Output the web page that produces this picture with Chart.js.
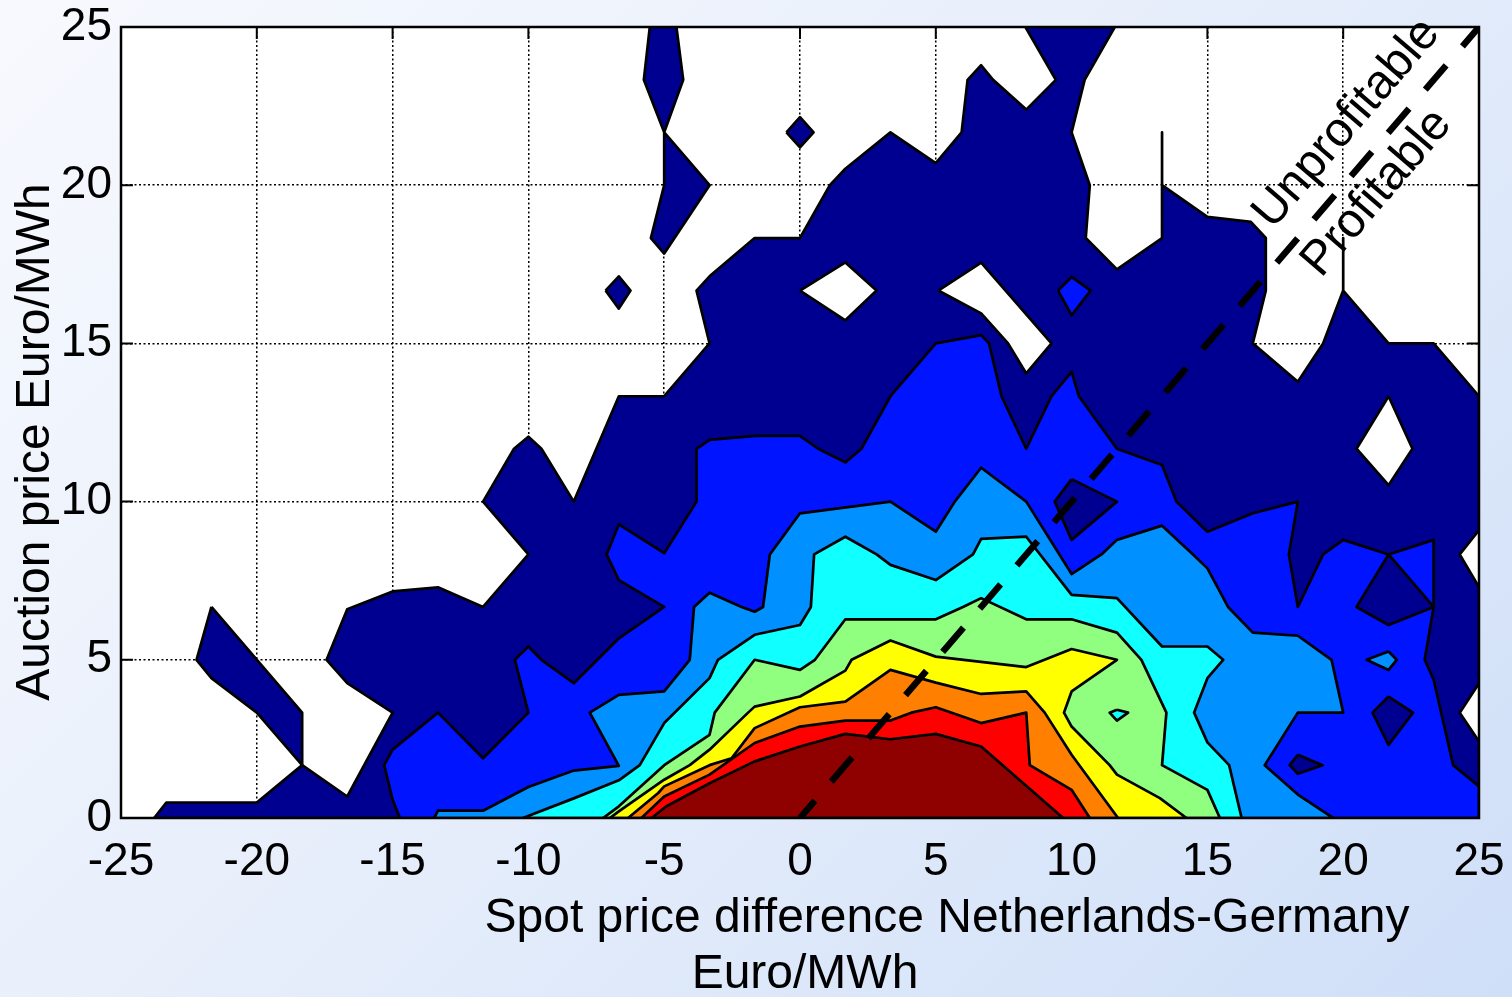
<!DOCTYPE html>
<html>
<head>
<meta charset="utf-8">
<title>Auction price vs spot price difference</title>
<script src="https://cdn.jsdelivr.net/npm/chart.js@4.4.1/dist/chart.umd.min.js"></script>
<style>
  html, body { margin: 0; padding: 0; }
  body {
    width: 1512px; height: 997px; overflow: hidden;
    background: linear-gradient(135deg, #f7f9fe 0%, #e8effb 45%, #cfdff8 100%);
  }
  canvas { display: block; }
</style>
</head>
<body>
<canvas id="contour" width="1512" height="997"></canvas>
<script>
// ---- axes ----
const xTicks = [-25, -20, -15, -10, -5, 0, 5, 10, 15, 20, 25];
const yTicks = [0, 5, 10, 15, 20, 25];

// ---- filled contour bands, [spot difference, auction price] vertices ----
// level 1 (lowest frequency band)
const level1Region = [
  [-23.78, 0], [-23.33, 0.49], [-20, 0.49], [-18.33, 1.67], [-16.67, 0.68], [-15, 3.33],
  [-16.67, 4.26], [-17.43, 5], [-16.67, 6.6], [-15, 7.16], [-13.33, 7.29], [-11.67, 6.67],
  [-10, 8.33], [-11.67, 10], [-10.53, 11.67], [-10, 12.05], [-9.52, 11.67], [-8.33, 10],
  [-6.67, 13.33], [-5, 13.33], [-3.33, 15], [-3.81, 16.67], [-3.33, 17.12], [-1.67, 18.33],
  [0, 18.33], [1.1, 20], [1.67, 20.52], [3.33, 21.67], [5, 20.7], [5.95, 21.67], [6.17, 23.33],
  [6.67, 23.79], [7.11, 23.33], [8.33, 22.39], [9.42, 23.33], [8.3, 25], [11.59, 25],
  [10.48, 23.33], [10, 21.67], [10.67, 20], [10.52, 18.33], [11.67, 17.34], [13.33, 18.33],
  [13.33, 21.67], [13.33, 20], [15, 19], [16.6, 18.84], [17.15, 18.33], [17.15, 16.67],
  [16.67, 15], [18.33, 13.79], [19.26, 15], [20, 16.67], [20, 18.33], [20, 16.67],
  [21.67, 15], [23.33, 15], [25, 13.33], [25, 9.1], [24.29, 8.33], [25, 7.3], [25, 4.26],
  [24.29, 3.33], [25, 2.42], [25, 0]
];
const level1Spike = [
  [-5.53, 25], [-5.75, 23.33], [-5, 21.67], [-5, 20], [-5.49, 18.33], [-5, 17.84],
  [-3.33, 20], [-5, 21.67], [-4.3, 23.33], [-4.55, 25]
];
const level1DiamondTop = [[-0.5, 21.67], [0, 22.15], [0.5, 21.67], [0, 21.2]];
const level1DiamondLeft = [[-7.16, 16.67], [-6.67, 17.12], [-6.24, 16.67], [-6.67, 16.1]];
const level1Strip = [
  [-21.67, 6.67], [-22.22, 5], [-21.67, 4.42], [-20, 3.33], [-18.33, 1.67], [-18.33, 3.33]
];
// gaps below level 1 inside the level 1 band
const gapA = [[0, 16.67], [1.67, 17.56], [2.82, 16.67], [1.67, 15.73]];
const gapB = [[5.09, 16.67], [6.67, 17.55], [9.26, 15], [8.33, 14.05], [7.66, 15], [6.67, 15.95]];
const gapC = [[21.67, 13.33], [20.49, 11.67], [21.67, 10.52], [22.55, 11.67]];

// level 2
const level2Region = [
  [-14.73, 0], [-15, 0.58], [-15.31, 1.67], [-15, 2.16], [-13.33, 3.33], [-11.67, 1.89],
  [-10, 3.33], [-10.5, 5], [-10, 5.42], [-9.52, 5], [-8.33, 4.26], [-7.46, 5], [-6.67, 5.68],
  [-5, 6.67], [-6.67, 7.52], [-7.12, 8.33], [-6.67, 9.28], [-5, 8.37], [-3.81, 10],
  [-3.81, 11.67], [-3.33, 11.95], [-1.67, 12.08], [0, 12.08], [0.67, 11.67], [1.67, 11.24],
  [2.26, 11.67], [3.33, 13.33], [5, 15], [6.67, 15.26], [6.96, 15], [7.42, 13.33],
  [8.33, 11.67], [9.26, 13.33], [10, 14.1], [10.27, 13.33], [11.67, 11.67], [13.33, 11.16],
  [13.86, 10], [15, 9.05], [16.67, 9.63], [18.33, 10], [18, 8.33], [18.33, 6.67],
  [19.26, 8.33], [20, 8.79], [21.67, 8.33], [23.33, 8.79], [23.33, 6.67], [23, 5],
  [23.33, 4.37], [24.05, 1.67], [25, 1.0], [25, 0]
];
const level2Patch = [[9.5, 16.67], [10, 17.1], [10.7, 16.67], [10, 15.89]];
const level1HoleA = [[10, 10.71], [11.67, 10], [10, 8.79], [9.38, 10]];
const level1HoleB = [[21.67, 8.33], [20.49, 6.67], [21.67, 6.1], [23.33, 6.67]];
const level1HoleC = [[21.67, 3.84], [22.57, 3.33], [21.67, 2.31], [21.08, 3.33]];
const level1HoleD = [[18.33, 2.0], [19.24, 1.67], [18.33, 1.4], [18.03, 1.67]];
const level3Patch = [[21.67, 5.26], [21.97, 5], [21.67, 4.68], [20.86, 5]];

// level 3
const level3Region = [
  [-13.47, 0], [-13.33, 0.23], [-11.67, 0.23], [-10, 0.98], [-8.33, 1.5], [-6.67, 1.65],
  [-7.74, 3.33], [-6.67, 3.89], [-5, 4.0], [-4.06, 5], [-3.9, 6.67], [-3.33, 7.12],
  [-2.15, 6.67], [-1.67, 6.52], [-1.36, 6.67], [-1.11, 8.33], [0, 9.63], [3.33, 10],
  [5, 9.05], [5.7, 10], [6.67, 11.07], [8.33, 10], [10, 7.71], [11.1, 8.33], [11.67, 8.79],
  [13.33, 9.24], [14.47, 8.33], [15, 7.89], [15.76, 6.67], [16.67, 5.86], [18.33, 5.76],
  [19.57, 5], [20, 3.33], [18.33, 3.33], [17.11, 1.67], [18.33, 0.74], [19.63, 0]
];

// level 4
const level4Region = [
  [-10.2, 0], [-8.33, 0.62], [-6.67, 1.19], [-5.9, 1.67], [-5, 3.0], [-3.33, 4.42],
  [-3.02, 5], [-1.67, 5.79], [0, 6.1], [0.4, 6.67], [0.52, 8.33], [1.67, 8.89],
  [2.82, 8.33], [3.33, 8.0], [5, 7.52], [6.37, 8.33], [6.67, 8.82], [8.33, 8.89],
  [10, 7.05], [11.67, 6.95], [13.33, 5.42], [15, 5.42], [15.58, 5], [15, 4.42],
  [14.51, 3.33], [15, 2.39], [15.8, 1.67], [16.26, 0]
];

// level 5
const level5Region = [
  [-7.25, 0], [-6.67, 0.37], [-5, 1.67], [-3.33, 2.63], [-3.14, 3.33], [-1.67, 5.0],
  [0, 4.68], [0.55, 5], [1.67, 6.28], [5, 6.28], [6, 6.67], [6.67, 6.95], [8.33, 6.28],
  [10, 6.28], [11.67, 5.86], [12.57, 5], [13.49, 3.33], [13.33, 1.67], [15, 0.89], [15.46, 0]
];
const level4Patch = [[11.67, 3.42], [12.08, 3.33], [11.67, 3.08], [11.4, 3.33]];

// level 6
const level6Region = [
  [-7.0, 0], [-6.67, 0.21], [-5, 1.21], [-4.06, 1.67], [-3.33, 2.16], [-1.91, 3.33],
  [-1.67, 3.52], [0, 3.84], [1.67, 4.66], [1.9, 5], [3.33, 5.61], [5, 5.1], [8.33, 4.77],
  [10, 5.34], [11.67, 5.0], [10, 4.0], [9.72, 3.33], [10, 2.89], [11.4, 1.67],
  [11.67, 1.37], [13.25, 0.63], [14.23, 0]
];

// level 7
const level7Region = [
  [-6.33, 0], [-5.22, 0.79], [-5, 1.0], [-3.33, 1.67], [-2.52, 1.89], [-1.67, 2.84],
  [0, 3.5], [1.67, 3.68], [3.33, 4.68], [5, 4.28], [6.67, 3.92], [8.33, 4.0],
  [9.01, 3.33], [10, 2.0], [11.71, 0]
];

// level 8
const level8Region = [
  [-5.84, 0], [-5, 0.68], [-3.33, 1.37], [-1.67, 2.37], [0, 2.89], [1.67, 3.08],
  [3.33, 3.08], [4.1, 3.33], [5, 3.5], [6.67, 3.0], [8.33, 3.33], [8.46, 1.67],
  [10, 0.89], [10.67, 0]
];

// level 9 (highest frequency band)
const level9Region = [
  [-5.47, 0], [-4.92, 0.37], [-3.33, 1.1], [-1.67, 1.79], [0, 2.26], [1.67, 2.66],
  [3.33, 2.49], [5, 2.66], [6.67, 2.26], [9.69, 0]
];

// break-even line: auction price equals spot price difference
const breakEven = [[0, 0], [25, 25]];

// ---- colours of the bands ----
const bandColors = ['#000090', '#0014ff', '#0090ff', '#10ffff', '#90ff80', '#ffff00', '#ff8000', '#ff0000', '#8f0000'];
const emptyColor = '#ffffff';

// ---- text ----
const xTitleLines = ['Spot price difference Netherlands-Germany', 'Euro/MWh'];
const yTitle = 'Auction price Euro/MWh';
const sideLabels = [
  { text: 'Unprofitable', at: [20.13, 21.95] },
  { text: 'Profitable', at: [21.24, 19.75] }
];

// bottom-to-top drawing order of the filled polygons
const layers = [
  [level1Region, bandColors[0]],
  [level1Spike, bandColors[0]],
  [level1DiamondTop, bandColors[0]],
  [level1DiamondLeft, bandColors[0]],
  [level1Strip, bandColors[0]],
  [gapA, emptyColor],
  [gapB, emptyColor],
  [gapC, emptyColor],
  [level2Patch, bandColors[1]],
  [level2Region, bandColors[1]],
  [level1HoleA, bandColors[0]],
  [level1HoleB, bandColors[0]],
  [level1HoleC, bandColors[0]],
  [level1HoleD, bandColors[0]],
  [level3Patch, bandColors[2]],
  [level3Region, bandColors[2]],
  [level4Region, bandColors[3]],
  [level5Region, bandColors[4]],
  [level4Patch, bandColors[3]],
  [level6Region, bandColors[5]],
  [level7Region, bandColors[6]],
  [level8Region, bandColors[7]],
  [level9Region, bandColors[8]]
];

const FONT = '"Liberation Sans", Arial, Helvetica, sans-serif';
Chart.defaults.font.family = FONT;
Chart.defaults.color = '#000';

const toPoints = arr => arr.map(([x, y]) => ({ x, y }));

const datasets = layers.map(([pts, color], i) => ({
  data: toPoints(pts.concat([pts[0]])),
  showLine: true,
  fill: 'shape',
  backgroundColor: color,
  borderColor: '#000',
  borderWidth: 2.7,
  borderJoinStyle: 'round',
  pointRadius: 0,
  pointHoverRadius: 0,
  tension: 0,
  order: layers.length - i + 1
}));

datasets.push({
  data: toPoints(breakEven),
  showLine: true,
  fill: false,
  borderColor: '#000',
  borderWidth: 6.5,
  borderDash: [32, 25],
  borderDashOffset: 9,
  borderCapStyle: 'butt',
  pointRadius: 0,
  pointHoverRadius: 0,
  order: 0
});

// white plot area, inward tick marks, box frame and all captions
const frame = {
  id: 'frame',
  beforeDraw(chart) {
    const { ctx, chartArea: a } = chart;
    ctx.save();
    ctx.fillStyle = '#ffffff';
    ctx.fillRect(a.left, a.top, a.right - a.left, a.bottom - a.top);
    ctx.restore();
  },
  beforeDatasetsDraw(chart) {
    const { ctx, chartArea: a, scales: { x, y } } = chart;
    const len = 12;
    ctx.save();
    ctx.strokeStyle = '#000';
    ctx.lineWidth = 2;
    ctx.beginPath();
    xTicks.forEach(v => {
      const px = x.getPixelForValue(v);
      ctx.moveTo(px, a.bottom); ctx.lineTo(px, a.bottom - len);
      ctx.moveTo(px, a.top); ctx.lineTo(px, a.top + len);
    });
    yTicks.forEach(v => {
      const py = y.getPixelForValue(v);
      ctx.moveTo(a.left, py); ctx.lineTo(a.left + len, py);
      ctx.moveTo(a.right, py); ctx.lineTo(a.right - len, py);
    });
    ctx.stroke();
    ctx.restore();
  },
  afterDatasetsDraw(chart) {
    const { ctx, chartArea: a } = chart;
    ctx.save();
    ctx.strokeStyle = '#000';
    ctx.lineWidth = 2.5;
    ctx.strokeRect(a.left, a.top, a.right - a.left, a.bottom - a.top);
    ctx.restore();
  },
  afterDraw(chart) {
    const { ctx, scales: { x, y } } = chart;
    ctx.save();
    ctx.fillStyle = '#000';
    ctx.font = '48px ' + FONT;
    ctx.textBaseline = 'middle';
    ctx.textAlign = 'center';

    // x axis title, two lines
    ctx.fillText(xTitleLines[0], 947, 919);
    ctx.fillText(xTitleLines[1], 805, 975);

    // y axis title
    ctx.save();
    ctx.translate(36, 442);
    ctx.rotate(-Math.PI / 2);
    ctx.fillText(yTitle, 0, 0);
    ctx.restore();

    // labels on both sides of the break-even line
    const x0 = x.getPixelForValue(breakEven[0][0]), y0 = y.getPixelForValue(breakEven[0][1]);
    const x1 = x.getPixelForValue(breakEven[1][0]), y1 = y.getPixelForValue(breakEven[1][1]);
    const angle = Math.atan2(y1 - y0, x1 - x0);
    sideLabels.forEach(l => {
      ctx.save();
      ctx.translate(x.getPixelForValue(l.at[0]), y.getPixelForValue(l.at[1]));
      ctx.rotate(angle);
      ctx.fillText(l.text, 0, 0);
      ctx.restore();
    });
    ctx.restore();
  }
};

new Chart(document.getElementById('contour'), {
  type: 'scatter',
  data: { datasets },
  options: {
    responsive: false,
    animation: false,
    events: [],
    layout: { padding: { top: 27, right: 33, left: 0, bottom: 0 } },
    plugins: {
      legend: { display: false },
      tooltip: { enabled: false },
      filler: { drawTime: 'beforeDatasetDraw' }
    },
    scales: {
      x: {
        type: 'linear',
        min: -25, max: 25,
        afterBuildTicks: s => { s.ticks = xTicks.map(v => ({ value: v })); },
        afterFit: s => { s.height = 179; s.paddingLeft = 0; s.paddingRight = 0; },
        ticks: { font: { size: 46, lineHeight: 1 }, padding: 21, color: '#000', maxRotation: 0, autoSkip: false },
        grid: { color: '#000', lineWidth: 1.5, drawTicks: false },
        border: { display: false, dash: [2, 2.5] }
      },
      y: {
        type: 'linear',
        min: 0, max: 25,
        afterBuildTicks: s => { s.ticks = yTicks.map(v => ({ value: v })); },
        afterFit: s => { s.width = 121; s.paddingTop = 0; s.paddingBottom = 0; },
        ticks: { font: { size: 46, lineHeight: 1 }, padding: 9, color: '#000', autoSkip: false },
        grid: { color: '#000', lineWidth: 1.5, drawTicks: false },
        border: { display: false, dash: [2, 2.5] }
      }
    }
  },
  plugins: [frame]
});
</script>
</body>
</html>
